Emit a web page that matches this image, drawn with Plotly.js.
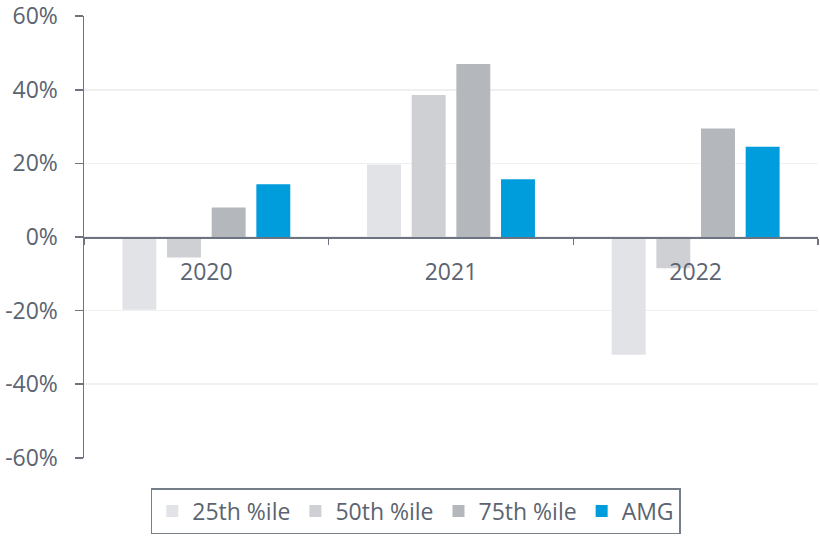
<!DOCTYPE html>
<html>
<head>
<meta charset="utf-8">
<script src="https://cdn.plot.ly/plotly-3.0.1.min.js"></script>
<style>html,body{margin:0;padding:0;background:#fff;}#chart{width:820px;height:537px;}</style>
</head>
<body>
<div id="chart"></div>
<script>
const years = ['2020', '2021', '2022'];
const p25 = [-0.198, 0.197, -0.32];
const p50 = [-0.056, 0.386, -0.085];
const p75 = [0.080, 0.470, 0.295];
const amg = [0.143, 0.157, 0.245];
const seriesNames = ['25th %ile', '50th %ile', '75th %ile', 'AMG'];
const seriesColors = ['#e2e3e7', '#cfd0d4', '#b4b7bb', '#009ddc'];
const seriesValues = [p25, p50, p75, amg];
const yTickVals = [-0.6, -0.4, -0.2, 0, 0.2, 0.4, 0.6];
const yTickText = ['-60%', '-40%', '-20%', '0%', '20%', '40%', '60%'];

const axisColor = '#6b7480';
const textColor = '#5b6470';

const traces = seriesValues.map((vals, i) => ({
  type: 'bar',
  name: seriesNames[i],
  x: years,
  y: vals,
  marker: {color: seriesColors[i], line: {width: 0}},
  hoverinfo: 'skip'
}));

const layout = {
  width: 820,
  height: 537,
  margin: {l: 84, r: 2, t: 16, b: 79, pad: 0},
  paper_bgcolor: '#ffffff',
  plot_bgcolor: '#ffffff',
  font: {family: '"Open Sans", sans-serif', size: 23, color: textColor},
  barmode: 'group',
  bargap: 0.27,
  bargroupgap: 0.24,
  showlegend: true,
  legend: {
    orientation: 'h',
    x: 0.452, xanchor: 'center',
    y: -0.068, yanchor: 'top',
    bordercolor: '#767e88',
    borderwidth: 1.5,
    font: {size: 23, color: textColor},
    traceorder: 'normal'
  },
  xaxis: {
    type: 'category',
    anchor: 'free',
    position: 0.5,
    showline: true,
    linecolor: axisColor,
    linewidth: 1.5,
    ticks: 'outside',
    tickson: 'boundaries',
    ticklen: 6,
    tickwidth: 1.5,
    tickcolor: axisColor,
    showgrid: false,
    zeroline: false,
    ticklabelstandoff: 14,
    tickfont: {size: 23, color: textColor}
  },
  yaxis: {
    range: [-0.6005, 0.6005],
    tickmode: 'array',
    tickvals: yTickVals,
    ticktext: yTickText,
    showline: true,
    linecolor: axisColor,
    linewidth: 1.5,
    ticks: 'outside',
    ticklen: 8,
    tickwidth: 1.5,
    tickcolor: axisColor,
    showgrid: true,
    gridcolor: '#f0f0f0',
    gridwidth: 1.5,
    zeroline: false,
    ticklabelstandoff: 12,
    ticklabeloverflow: 'allow',
    tickfont: {size: 23, color: textColor}
  }
};

Plotly.newPlot('chart', traces, layout, {displayModeBar: false, staticPlot: true});
</script>
</body>
</html>
